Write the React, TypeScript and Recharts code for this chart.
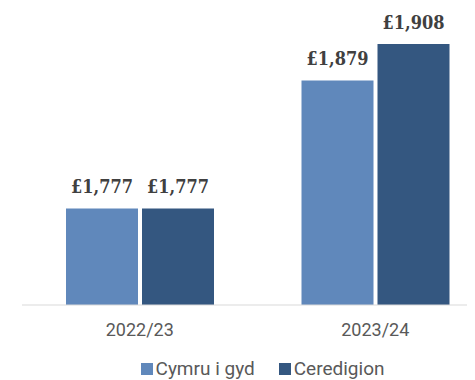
import { BarChart, Bar, XAxis, YAxis, Legend, LabelList } from 'recharts';

const YEARS = ['2022/23', '2023/24'];
const CYMRU = [1777, 1879];
const CEREDIGION = [1777, 1908];

const SERIES = [
  { key: 'cymru', name: 'Cymru i gyd', color: '#6088bb' },
  { key: 'ceredigion', name: 'Ceredigion', color: '#345780' },
];

const data = YEARS.map((year, i) => ({
  year,
  cymru: CYMRU[i],
  ceredigion: CEREDIGION[i],
}));

const money = (v: number) => `£${v.toLocaleString('en-GB')}`;

function LegendBox() {
  return (
    <div style={{ display: 'flex', justifyContent: 'center', paddingLeft: 10, gap: 24 }}>
      {SERIES.map(s => (
        <div key={s.key} style={{ display: 'flex', alignItems: 'center', gap: 3 }}>
          <span style={{ width: 12, height: 12, background: s.color, display: 'inline-block' }} />
          <span style={{ fontFamily: 'Roboto, sans-serif', fontSize: 19, color: '#595959', lineHeight: '22px' }}>
            {s.name}
          </span>
        </div>
      ))}
    </div>
  );
}

export default function App() {
  return (
    <div style={{ width: 467, height: 372, overflow: 'hidden' }}>
      <BarChart
        width={485}
        height={372}
        data={data}
        margin={{ top: 21, right: 0, left: 14, bottom: 0 }}
        barCategoryGap={44}
        barGap={4}
      >
        <XAxis
          dataKey="year"
          height={53}
          tickLine={false}
          tickMargin={12}
          axisLine={{ stroke: '#d9d9d9' }}
          tick={{ fill: '#595959', fontSize: 18, fontFamily: 'Roboto, sans-serif' }}
        />
        <YAxis hide domain={[1700, 1920]} />
        <Legend verticalAlign="bottom" content={<LegendBox />} />
        {SERIES.map(s => (
          <Bar key={s.key} dataKey={s.key} name={s.name} fill={s.color} isAnimationActive={false}>
            <LabelList
              dataKey={s.key}
              position="top"
              offset={15}
              formatter={(v: number) => money(v)}
              style={{
                fill: '#404040',
                fontSize: 18,
                fontWeight: 'bold',
                fontFamily: "'DejaVu Serif Condensed', 'DejaVu Serif', serif",
              }}
            />
          </Bar>
        ))}
      </BarChart>
    </div>
  );
}
